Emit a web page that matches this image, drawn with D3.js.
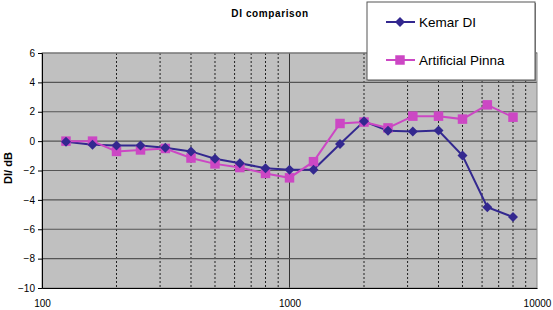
<!DOCTYPE html>
<html><head><meta charset="utf-8">
<script src="https://cdn.jsdelivr.net/npm/d3@7"></script>
<style>body{margin:0;background:#fff}svg{display:block;font-family:"Liberation Sans",Arial,sans-serif}</style>
</head><body><svg id="c" width="553" height="310"></svg>
<script>
const freqs = [125,160,200,250,315,400,500,630,800,1000,1250,1600,2000,2500,3150,4000,5000,6300,8000];
const kemar = [-0.05,-0.25,-0.3,-0.3,-0.45,-0.7,-1.2,-1.5,-1.85,-1.95,-1.95,-0.2,1.35,0.7,0.65,0.72,-0.98,-4.5,-5.17];
const pinna = [0,0,-0.7,-0.6,-0.5,-1.15,-1.55,-1.8,-2.2,-2.5,-1.4,1.2,1.3,0.9,1.7,1.7,1.5,2.47,1.63];
const yTicks = [-10,-8,-6,-4,-2,0,2,4,6];
const xTickLabels = [100,1000,10000];
const seriesNames = ["Kemar DI","Artificial Pinna"];

const svg = d3.select("#c");
const L=42,R=537,T=53,B=288;
const x = d3.scaleLog().domain([100,10000]).range([L,R]);
const y = d3.scaleLinear().domain([-10,6]).range([B,T]);

svg.append("rect").attr("x",L).attr("y",T).attr("width",R-L).attr("height",B-T).attr("fill","#c0c0c0");

const minor = [];
[100,1000].forEach(d=>{for(let k=2;k<=9;k++) minor.push(d*k);});
svg.append("g").selectAll("line").data(minor).join("line")
  .attr("x1",d=>x(d)).attr("x2",d=>x(d)).attr("y1",T).attr("y2",B)
  .attr("stroke","#222").attr("stroke-width",1).attr("stroke-dasharray","2,2");
svg.append("line").attr("x1",x(1000)).attr("x2",x(1000)).attr("y1",T).attr("y2",B).attr("stroke","#333").attr("stroke-width",1);
svg.append("g").selectAll("line").data(yTicks.filter(d=>d>-10)).join("line")
  .attr("x1",L).attr("x2",R).attr("y1",d=>y(d)).attr("y2",d=>y(d))
  .attr("stroke","#555").attr("stroke-width",1.2);
svg.append("rect").attr("x",L).attr("y",T).attr("width",R-L).attr("height",B-T).attr("fill","none").attr("stroke","#888").attr("stroke-width",1);

const ya = svg.append("g").attr("transform",`translate(${L},0)`)
  .call(d3.axisLeft(y).tickValues(yTicks).tickSize(4).tickPadding(3));
ya.select(".domain").attr("stroke","#000");
ya.selectAll("text").attr("font-size",10).attr("fill","#000").attr("font-family","Liberation Sans, Arial, sans-serif");
const xa = svg.append("g").attr("transform",`translate(0,${B})`)
  .call(d3.axisBottom(x).tickValues(xTickLabels).tickFormat(d3.format("d")).tickSize(0).tickPadding(12));
xa.select(".domain").attr("stroke","#000");
xa.selectAll("text").attr("font-size",10).attr("fill","#000").attr("font-family","Liberation Sans, Arial, sans-serif");

svg.append("text").attr("x",270).attr("y",17).attr("text-anchor","middle").attr("font-size",10).attr("letter-spacing",0.6).attr("font-weight","bold").text("DI comparison");
svg.append("text").attr("transform","translate(12,168) rotate(-90)").attr("text-anchor","middle").attr("font-size",11).attr("font-weight","bold").text("DI/ dB");

const colors = ["#33288f","#cc47c4"];
const line = d3.line().x(d=>x(d[0])).y(d=>y(d[1]));
const dK = freqs.map((f,i)=>[f,kemar[i]]);
const dP = freqs.map((f,i)=>[f,pinna[i]]);
svg.append("path").datum(dK).attr("d",line).attr("fill","none").attr("stroke",colors[0]).attr("stroke-width",2);
svg.append("path").datum(dP).attr("d",line).attr("fill","none").attr("stroke",colors[1]).attr("stroke-width",2);
const diamond = d3.symbol().type(d3.symbolDiamond2).size(64);
const square = d3.symbol().type(d3.symbolSquare).size(90);
svg.append("g").selectAll("path").data(dP).join("path")
  .attr("transform",d=>`translate(${x(d[0])},${y(d[1])})`).attr("d",square).attr("fill",colors[1]);
svg.append("g").selectAll("path").data(dK).join("path")
  .attr("transform",d=>`translate(${x(d[0])},${y(d[1])})`).attr("d",diamond).attr("fill",colors[0]);

const lg = svg.append("g");
lg.append("rect").attr("x",368).attr("y",3).attr("width",168).attr("height",78).attr("fill","#888");
lg.append("rect").attr("x",367).attr("y",2).attr("width",168).attr("height",78).attr("fill","#fff").attr("stroke","#555").attr("stroke-width",1);
const ly = [22,60];
seriesNames.forEach((n,i)=>{
  lg.append("line").attr("x1",386).attr("x2",415).attr("y1",ly[i]).attr("y2",ly[i]).attr("stroke",colors[i]).attr("stroke-width",2);
  lg.append("path").attr("transform",`translate(400,${ly[i]})`).attr("d",i===0?diamond:square).attr("fill",colors[i]);
  lg.append("text").attr("x",419).attr("y",ly[i]+5).attr("font-size",13.5).attr("fill","#000").text(n);
});
</script></body></html>
